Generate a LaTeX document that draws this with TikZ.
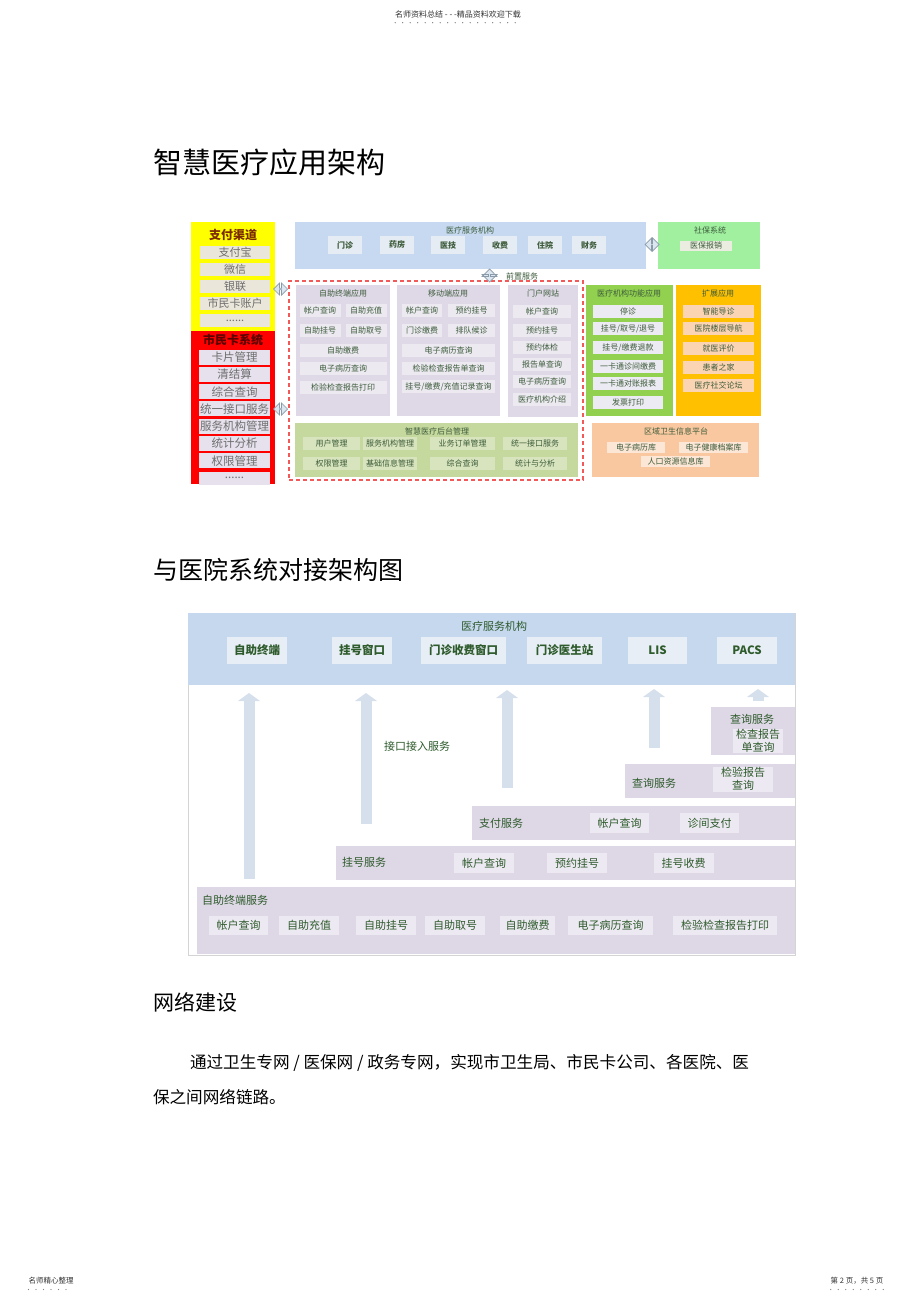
\documentclass[tikz,border=0pt]{standalone}
\usepackage{fontspec}
\setmainfont{Noto Sans CJK SC}
\usetikzlibrary{shapes.arrows, arrows.meta}

% first picture
\definecolor{payyellow}{HTML}{FFFF00}
\definecolor{cardred}{HTML}{FF0000}
\definecolor{paycell}{HTML}{EAE6DA}
\definecolor{cardcell}{HTML}{E6E1EC}
\definecolor{paytitle}{HTML}{7A2A00}
\definecolor{cardtitle}{HTML}{5A0000}
\definecolor{greytext}{HTML}{6E6E6E}
\definecolor{hospblue}{HTML}{C6D9F0}
\definecolor{hospcell}{HTML}{E6ECF3}
\definecolor{socgreen}{HTML}{A0F0A0}
\definecolor{soccell}{HTML}{EAEDE0}
\definecolor{lavpanel}{HTML}{DFD9E7}
\definecolor{lavcell}{HTML}{ECE9F1}
\definecolor{olivepanel}{HTML}{C5D89D}
\definecolor{olivecell}{HTML}{D8E4BE}
\definecolor{funcgreen}{HTML}{92D050}
\definecolor{funccell}{HTML}{ECEAF2}
\definecolor{extorange}{HTML}{FFC000}
\definecolor{extcell}{HTML}{FBD4B4}
\definecolor{regionpeach}{HTML}{F9C8A0}
\definecolor{regioncell}{HTML}{FCE6D6}
\definecolor{dashred}{HTML}{F25A5A}
\definecolor{ink}{HTML}{3D5C3B}
\definecolor{arrowfill}{HTML}{DCE6F0}
\definecolor{arrowline}{HTML}{8A9AA8}
% second picture
\definecolor{bandblue}{HTML}{C5D8EE}
\definecolor{bandcell}{HTML}{E8EEF5}
\definecolor{servlav}{HTML}{DED7E6}
\definecolor{servcell}{HTML}{EDE9F2}
\definecolor{shaft}{HTML}{D6E0EC}
\definecolor{framegray}{HTML}{D4D4D4}
\definecolor{ink2}{HTML}{2E5B2C}

\begin{document}
\begin{tikzpicture}[
    x = 1pt, y = -1pt,
    every node/.style = {inner sep = 0pt, outer sep = 0pt},
    fs/.style = {font = \fontsize{#1}{#1}\selectfont},
    fsb/.style = {font = \fontsize{#1}{#1}\selectfont\bfseries},
    lines/.style = {align = center, font = \fontsize{11}{13.5}\selectfont},
    panel/.style 2 args = {anchor = north west, minimum width = #1pt, minimum height = #2pt},
    cell/.style 2 args = {minimum width = #1pt, minimum height = #2pt, fs = 8, text = ink},
    service/.style 2 args = {minimum width = #1pt, minimum height = #2pt, fill = servcell, fs = 11, text = ink2},
    dbl arrow/.style = {double arrow, double arrow head extend = 2.5pt, draw = arrowline,
                        fill = arrowfill, line width = 0.7pt, minimum height = 14pt, minimum width = 12pt},
    up arrow/.style = {draw = shaft, line width = 11pt,
                       -{Triangle[width = 22pt, length = 8pt, line width = 0pt]}},
    dotline/.style = {draw = gray, line width = 1.3pt, line cap = round, dash pattern = on 0pt off 7.5pt},
  ]
  \path [fill = white] (0,0) rectangle (920,1303);
  \useasboundingbox (0,0) rectangle (920,1303);

  % page head and foot
  \node [fs = 8, text = black!80] (page head) at (458,14) {名师资料总结 - - -精品资料欢迎下载};
  \draw [dotline] ([yshift = -5pt]page head.south west) -- ([yshift = -5pt]page head.south east);
  \node [fs = 7.5, text = black!80] (foot left) at (51,1281) {名师精心整理};
  \node [fs = 7.5, text = black!80] (foot right) at (857,1281) {第 2 页，共 5 页};
  \draw [dotline] ([yshift = -5pt]foot left.south west) -- ([yshift = -5pt]foot left.south east);
  \draw [dotline] ([yshift = -5pt]foot right.south west) -- ([yshift = -5pt]foot right.south east);

  \node [fs = 29, anchor = west] (title arch) at (153,162) {智慧医疗应用架构};

  % left column
  \node [panel = {84}{109}, fill = payyellow] (pay) at (191,222) {};
  \node [fsb = 12, text = paytitle] (pay title) at (233,235) {支付渠道};
  \foreach \t [count = \i] in {支付宝, 微信, 银联, 市民卡账户}
    \node [cell = {70}{13}, fill = paycell, fs = 11, text = greytext] (pay \i) at (235,235.5+17*\i) {\t};
  \node [cell = {70}{13}, fill = paycell, fs = 11, text = greytext] (pay 5) at (235,320.5) {......};
  \node [panel = {84}{153}, fill = cardred] (card) at (191,331) {};
  \node [fsb = 12, text = cardtitle] (card title) at (233,340) {市民卡系统};
  \foreach \t [count = \i] in {卡片管理, 清结算, 综合查询, 统一接口服务, 服务机构管理, 统计分析, 权限管理}
    \node [cell = {71}{15}, fill = cardcell, fs = 11.5, text = greytext] (card \i) at (234.5,339.7+17.3*\i) {\t};
  \node [cell = {71}{13}, fill = cardcell, fs = 11.5, text = greytext] (card 8) at (234.5,478) {......};

  % hospital services and social security
  \node [panel = {351}{47}, fill = hospblue] (hosp) at (295,222) {};
  \node [fs = 8, text = ink] (hosp title) at (470,230) {医疗服务机构};
  \foreach \t/\x [count = \i] in {门诊/345, 药房/397, 医技/448, 收费/500, 住院/545, 财务/589}
    \node [cell = {34}{18}, fill = hospcell, fsb = 8] (hosp \i) at (\x,245) {\t};
  \node [panel = {102}{47}, fill = socgreen] (soc) at (658,222) {};
  \node [fs = 8, text = ink] (soc title) at (710,230) {社保系统};
  \node [cell = {52}{10}, fill = soccell] (soc 1) at (706,245.5) {医保报销};
  \node [dbl arrow, minimum width = 13pt] (link soc) at (652,244.5) {};

  % front services
  \node [panel = {294}{199}, draw = dashred, line width = 1.1pt, dash pattern = on 4pt off 3pt] (front) at (289,281) {};
  \node [dbl arrow, shape border rotate = 90, minimum height = 13pt, minimum width = 15pt] (link front) at (489.5,275.5) {};
  \node [fs = 8, text = ink] (front label) at (522,276) {前置服务};
  \node [dbl arrow] (link pay) at (280.5,289) {};
  \node [dbl arrow] (link card) at (280.5,409) {};

  \node [panel = {94}{131}, fill = lavpanel] (self app) at (296,285) {};
  \node [fs = 8, text = ink] (self app title) at (343,293) {自助终端应用};
  \foreach \t/\x/\y/\w [count = \i] in {帐户查询/320/310.5/41, 自助充值/366/310.5/41, 自助挂号/320/330.5/41,
      自助取号/366/330.5/41, 自助缴费/343/350.5/87, 电子病历查询/343/368.5/87, 检验检查报告打印/343/387.5/87}
    \node [cell = {\w}{13}, fill = lavcell] (self app \i) at (\x,\y) {\t};

  \node [panel = {103}{131}, fill = lavpanel] (mobile) at (397,285) {};
  \node [fs = 8, text = ink] (mobile title) at (448,293) {移动端应用};
  \foreach \t/\x/\y/\w [count = \i] in {帐户查询/422/310.5/40, 预约挂号/471.5/310.5/47, 门诊缴费/422/330.5/40,
      排队候诊/471.5/330.5/47, 电子病历查询/448.5/350/93, 检验检查报告单查询/448.5/368.5/93}
    \node [cell = {\w}{13}, fill = lavcell] (mobile \i) at (\x,\y) {\t};
  \node [cell = {93}{13}, fill = lavcell] (mobile 7) at (448.5,386.5) {挂号/缴费/充值记录查询};

  \node [panel = {70}{132}, fill = lavpanel] (portal) at (508,285) {};
  \node [fs = 8, text = ink] (portal title) at (543,293) {门户网站};
  \foreach \t/\y [count = \i] in {帐户查询/311, 预约挂号/330.5, 预约体检/347, 报告单查询/364, 电子病历查询/381.5, 医疗机构介绍/399.5}
    \node [cell = {58}{13}, fill = lavcell] (portal \i) at (542,\y) {\t};

  \node [panel = {283}{54}, fill = olivepanel] (backend) at (295,423) {};
  \node [fs = 8, text = ink] (backend title) at (437,431) {智慧医疗后台管理};
  \foreach \t/\x/\y/\w [count = \i] in {用户管理/331.5/443.5/57, 服务机构管理/390/443.5/54, 业务订单管理/462.5/443.5/65,
      统一接口服务/535/443.5/64, 权限管理/331.5/463.5/57, 基础信息管理/390/463.5/54, 综合查询/462.5/463.5/65, 统计与分析/535/463.5/64}
    \node [cell = {\w}{13}, fill = olivecell] (backend \i) at (\x,\y) {\t};

  % institution side
  \node [panel = {87}{131}, fill = funcgreen] (func) at (586,285) {};
  \node [fs = 8, text = ink] (func title) at (629,293) {医疗机构功能应用};
  \node [cell = {70}{13}, fill = funccell] (func 1) at (628,311.5) {停诊};
  \node [cell = {70}{13}, fill = funccell] (func 2) at (628,328.5) {挂号/取号/退号};
  \node [cell = {70}{13}, fill = funccell] (func 3) at (628,347.5) {挂号/缴费退款};
  \node [cell = {70}{13}, fill = funccell] (func 4) at (628,366.5) {一卡通诊间缴费};
  \node [cell = {70}{13}, fill = funccell] (func 5) at (628,383.5) {一卡通对账报表};
  \node [cell = {70}{13}, fill = funccell] (func 6) at (628,402) {发票打印};

  \node [panel = {85}{131}, fill = extorange] (ext) at (676,285) {};
  \node [fs = 8, text = ink] (ext title) at (718,293) {扩展应用};
  \foreach \t/\y [count = \i] in {智能导诊/311.5, 医院楼层导航/328.5, 就医评价/348.5, 患者之家/367.5, 医疗社交论坛/385}
    \node [cell = {71}{13}, fill = extcell] (ext \i) at (718.5,\y) {\t};

  \node [panel = {167}{54}, fill = regionpeach] (region) at (592,423) {};
  \node [fs = 8, text = ink] (region title) at (676,431) {区域卫生信息平台};
  \node [cell = {58}{11}, fill = regioncell] (region 1) at (636,447.5) {电子病历库};
  \node [cell = {69}{11}, fill = regioncell] (region 2) at (713.5,447.5) {电子健康档案库};
  \node [cell = {69}{11}, fill = regioncell] (region 3) at (675.5,461.5) {人口资源信息库};

  % docking picture
  \node [fs = 25, anchor = west] (title dock) at (153,570) {与医院系统对接架构图};
  \node [panel = {607}{342}, draw = framegray, line width = 0.6pt] (dock frame) at (188,613) {};
  \node [panel = {607}{72}, fill = bandblue] (band) at (188,613) {};
  \node [fs = 11, text = ink2] (band title) at (494,626) {医疗服务机构};
  \foreach \t/\x/\w [count = \i] in {自助终端/257/60, 挂号窗口/362/60, 门诊收费窗口/463.5/85, 门诊医生站/564.5/75, LIS/657.5/59, PACS/747/60}
    \node [minimum width = \w pt, minimum height = 27pt, fill = bandcell, fsb = 11.5, text = ink2] (sys \i) at (\x,650.5) {\t};

  \node [panel = {84}{48}, fill = servlav] (query top) at (711,707) {};
  \node [fs = 11, text = ink2] (query top label) at (752,719) {查询服务};
  \node [service = {50}{24}, lines, text = ink2] (query top 1) at (758,741) {检查报告\\单查询};

  \node [panel = {170}{34}, fill = servlav] (query) at (625,764) {};
  \node [fs = 11, text = ink2, anchor = west] (query label) at (632,783) {查询服务};
  \node [service = {60}{25}, lines, text = ink2] (query 1) at (743,779) {检验报告\\查询};

  \node [panel = {323}{34}, fill = servlav] (paying) at (472,806) {};
  \node [fs = 11, text = ink2, anchor = west] (paying label) at (479,823) {支付服务};
  \node [service = {59}{20}] (paying 1) at (619.5,823) {帐户查询};
  \node [service = {59}{20}] (paying 2) at (709.5,823) {诊间支付};

  \node [panel = {459}{34}, fill = servlav] (register) at (336,846) {};
  \node [fs = 11, text = ink2, anchor = west] (register label) at (342,862) {挂号服务};
  \foreach \t/\x [count = \i] in {帐户查询/484, 预约挂号/577, 挂号收费/683.5}
    \node [service = {60}{20}] (register \i) at (\x,863) {\t};

  \node [panel = {598}{67}, fill = servlav] (terminal) at (197,887) {};
  \node [fs = 11, text = ink2, anchor = west] (terminal label) at (202,900) {自助终端服务};
  \foreach \t/\x/\w [count = \i] in {帐户查询/238.5/59, 自助充值/309/60, 自助挂号/386/60, 自助取号/455/60,
      自助缴费/527.5/55, 电子病历查询/610.5/85, 检验检查报告打印/725/104}
    \node [service = {\w}{19}] (terminal \i) at (\x,925.5) {\t};

  \foreach \n/\x/\ya/\yb in {1/249/879/693, 2/366/824/693, 3/507/788/690, 4/654/748/689, 5/758/701/689} {
    \coordinate (arrow foot \n) at (\x,\ya);
    \coordinate (arrow tip \n) at (\x,\yb);
    \draw [up arrow] (arrow foot \n) -- (arrow tip \n);
  }
  \node [fs = 11, text = ink2, anchor = west] (link label) at (384,746) {接口接入服务};

  % network
  \node [fs = 21, anchor = west] (title net) at (153,1002) {网络建设};
  \node [fs = 16.6, anchor = west] (net line 1) at (190,1063) {通过卫生专网 / 医保网 / 政务专网，实现市卫生局、市民卡公司、各医院、医};
  \node [fs = 16.6, anchor = west] (net line 2) at (153,1097) {保之间网络链路。};
\end{tikzpicture}
\end{document}
